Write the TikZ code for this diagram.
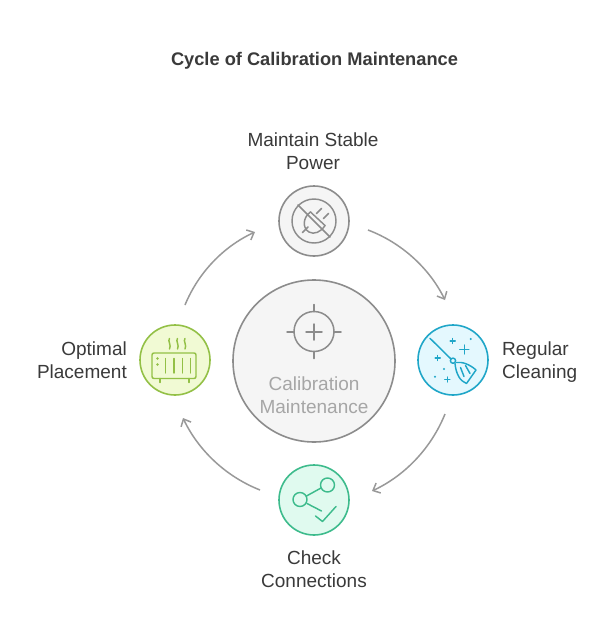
\documentclass[tikz,border=0pt]{standalone}
\usepackage{fontspec}
\setmainfont{Liberation Sans}
\usetikzlibrary{arrows.meta,calc}
\definecolor{txt}{HTML}{3A3A3A}
\definecolor{grayS}{HTML}{8C8C8C}
\definecolor{grayF}{HTML}{F5F5F5}
\definecolor{cenT}{HTML}{A6A6A6}
\definecolor{blueS}{HTML}{1FA6C8}
\definecolor{blueF}{HTML}{E4F8FE}
\definecolor{greenS}{HTML}{3DBB8C}
\definecolor{greenF}{HTML}{E0FAEF}
\definecolor{limeS}{HTML}{93C046}
\definecolor{limeF}{HTML}{F1FAD4}
\definecolor{arrowc}{HTML}{999999}
\tikzset{
  hub/.style={circle,draw=#1S,fill=#1F,line width=1.6pt,minimum size=70pt,inner sep=0pt},
  lab/.style={font=\fontsize{19}{23}\selectfont,text=txt,inner sep=0pt},
  flow/.style={draw=arrowc,line width=1.5pt,-{Straight Barb[length=6pt,width=11pt,line width=1.5pt]},looseness=0.88,bend left=21.5},
  ico/.style={line width=1.45pt,line cap=round,line join=round},
}
\begin{document}
\begin{tikzpicture}[x=1pt,y=-1pt]
\useasboundingbox (0,0) rectangle (605,640);
\fill[white] (0,0) rectangle (605,640);
\node[font=\fontsize{18.25}{22}\selectfont\bfseries,text=txt,inner sep=0pt] (title) at (314.5,60.5) {Cycle of Calibration Maintenance};

% nodes
\node[circle,draw=grayS,fill=grayF,line width=1.6pt,minimum size=162pt,inner sep=0pt] (center) at (314,361) {};
\node[hub=gray] (top) at (314,221) {};
\node[hub=blue] (right) at (453,360) {};
\node[hub=green] (bottom) at (314,500) {};
\node[hub=lime] (left) at (175,360) {};

% labels
\node[lab,align=center] (ltop) at (313,151.5) {Maintain Stable\\Power};
\node[lab,align=left,anchor=west] (lright) at (502,362) {Regular\\Cleaning};
\node[lab,align=center] (lbottom) at (314,569.5) {Check\\Connections};
\node[lab,align=right,anchor=east] (lleft) at (127,360.5) {Optimal\\Placement};
\node[lab,align=center,text=cenT] (lcenter) at (314,395.5) {Calibration\\Maintenance};

% connector ends
\coordinate (ts) at ($(top)+(54,9)$);
\coordinate (re) at ($(right)+(-8,-60)$);
\coordinate (rs) at ($(right)+(-8,54)$);
\coordinate (be) at ($(bottom)+(58,-9)$);
\coordinate (bs) at ($(bottom)+(-54,-10)$);
\coordinate (le) at ($(left)+(8,58)$);
\coordinate (ls) at ($(left)+(10,-55)$);
\coordinate (te) at ($(top)+(-59,11)$);
\draw[flow] (ts) to (re);
\draw[flow] (rs) to (be);
\draw[flow] (bs) to (le);
\draw[flow] (ls) to (te);

% centre icon
\begin{scope}[ico,draw=grayS,line width=1.5pt]
\draw (314,331.5) circle[radius=20];
\draw (314,324) -- (314,340) (306,332) -- (322,332);
\draw (314,304.5) -- (314,311.5) (314,351.5) -- (314,358.5) (287,332) -- (294,332) (334,332) -- (341,332);
\end{scope}

% top icon (crossed plug)
\begin{scope}[ico,draw=grayS]
\draw (314,221) circle[radius=22];
\draw (298,205) -- (330,237);
\draw (310.5,212) -- (325,225.5);
\draw (310.5,212) .. controls (303,217) and (302,228) .. (309,232) .. controls (314,235) and (321,232) .. (325,225.5);
\draw (316.5,213.5) -- (321.5,208.5) (323.5,218.5) -- (328.5,213.5);
\draw (308,227) -- (302.5,232.5);
\end{scope}

% right icon (broom)
\begin{scope}[ico,draw=blueS]
\draw (430,338.3) -- (450.8,358.8);
\draw (453,360.7) circle[radius=2.6];
\draw (456.5,362.5) .. controls (462,361.5) and (470,364.5) .. (476,370) -- (466.5,383.5) .. controls (460,381) and (456,374) .. (455,363.5);
\draw (460.5,367.5) -- (464,376.5) (465.5,365.5) -- (470,373.5);
\draw (452.7,338.5) -- (452.7,343.5) (450.2,341) -- (455.2,341);
\draw (464.3,345) -- (464.3,354) (459.8,349.5) -- (468.8,349.5);
\draw (437.7,355.5) -- (437.7,360.5) (435.2,358) -- (440.2,358);
\draw (447.3,377) -- (447.3,382) (444.8,379.5) -- (449.8,379.5);
\fill[blueS] (470.7,339) circle[radius=1.2] (444,369) circle[radius=1.2] (435,376.7) circle[radius=1.2];
\end{scope}

% bottom icon (connections and check)
\begin{scope}[ico,draw=greenS]
\draw (327.5,485) circle[radius=7];
\draw (300,499.5) circle[radius=7];
\draw (306.5,496) -- (321,488);
\draw (307,503.5) -- (321.5,511);
\draw (315.5,516) -- (322.5,521.5) -- (336,506.5);
\end{scope}

% left icon (heater)
\begin{scope}[ico,draw=limeS]
\draw[rounded corners=2pt] (152,353) rectangle (196,378.5);
\draw (165.5,358.5) -- (165.5,373) (174,358.5) -- (174,373) (182.5,358.5) -- (182.5,373) (190.5,358.5) -- (190.5,373);
\fill[limeS] (157.5,358.5) circle[radius=1.3] (157.5,364.5) circle[radius=1.3];
\draw (160,378.5) -- (160,382.5) (189,378.5) -- (189,382.5);
\foreach \x in {169.5,177.5,185} {
  \draw (\x,338.5) .. controls (\x-2.2,341) and (\x+2.2,345) .. (\x,349) ;
}
\end{scope}
\end{tikzpicture}
\end{document}
